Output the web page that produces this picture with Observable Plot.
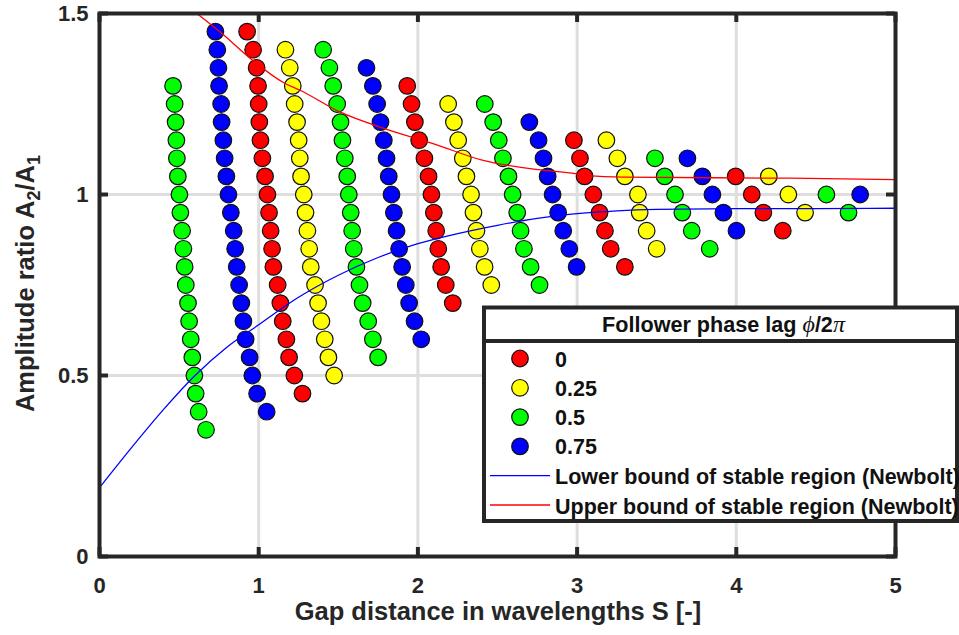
<!DOCTYPE html>
<html><head><meta charset="utf-8">
<script src="https://cdn.jsdelivr.net/npm/d3@7"></script>
<script src="https://cdn.jsdelivr.net/npm/@observablehq/plot@0.6"></script>
<style>
html,body{margin:0;padding:0;background:#fff;}
#chart{position:relative;width:959px;height:635px;overflow:hidden;}
</style></head><body><div id="chart"></div>
<script>
// ---- data ----
const phaseLabels = ["0", "0.25", "0.5", "0.75"];
const phaseColors = ["#ff0000", "#ffff00", "#00ff00", "#0000ff"];

// phase lag 0 (red)
const gap0 = [0.927,0.965,0.987,0.996,1.000,1.004,1.011,1.023,1.040,1.055,1.065,1.075,1.084,1.092,1.119,1.136,1.151,1.174,1.191,1.224,1.275,
  1.933,1.960,1.981,2.008,2.041,2.067,2.085,2.100,2.115,2.128,2.146,2.175,2.219,
  2.980,3.018,3.047,3.102,3.141,3.175,3.211,3.300,
  3.996,4.097,4.170,4.292];
const amp0 = [1.45,1.40,1.35,1.30,1.25,1.20,1.15,1.10,1.05,1.00,0.95,0.90,0.85,0.80,0.75,0.70,0.65,0.60,0.55,0.50,0.45,
  1.30,1.25,1.20,1.15,1.10,1.05,1.00,0.95,0.90,0.85,0.80,0.75,0.70,
  1.15,1.10,1.05,1.00,0.95,0.90,0.85,0.80,
  1.05,1.00,0.95,0.90];

// phase lag 0.25 (yellow)
const gap25 = [1.168,1.195,1.214,1.226,1.241,1.251,1.258,1.266,1.283,1.294,1.306,1.317,1.327,1.354,1.373,1.394,1.415,1.438,1.474,
  2.190,2.226,2.253,2.282,2.305,2.334,2.349,2.368,2.389,2.419,2.461,
  3.184,3.253,3.300,3.382,3.393,3.437,3.500,
  4.204,4.327,4.432];
const amp25 = [1.40,1.35,1.30,1.25,1.20,1.15,1.10,1.05,1.00,0.95,0.90,0.85,0.80,0.75,0.70,0.65,0.60,0.55,0.50,
  1.25,1.20,1.15,1.10,1.05,1.00,0.95,0.90,0.85,0.80,0.75,
  1.15,1.10,1.05,1.00,0.95,0.90,0.85,
  1.05,1.00,0.95];

// phase lag 0.5 (green)
const gap50 = [0.462,0.472,0.478,0.483,0.486,0.492,0.502,0.508,0.519,0.527,0.535,0.542,0.556,0.563,0.573,0.583,0.596,0.604,0.623,0.669,
  1.405,1.444,1.468,1.493,1.514,1.526,1.541,1.556,1.566,1.578,1.587,1.597,1.614,1.633,1.653,1.688,1.717,1.750,
  2.420,2.473,2.508,2.534,2.569,2.595,2.624,2.645,2.666,2.708,2.764,
  3.489,3.550,3.615,3.661,3.720,3.833,
  4.566,4.705];
const amp50 = [1.30,1.25,1.20,1.15,1.10,1.05,1.00,0.95,0.90,0.85,0.80,0.75,0.70,0.65,0.60,0.55,0.50,0.45,0.40,0.35,
  1.40,1.35,1.30,1.25,1.20,1.15,1.10,1.05,1.00,0.95,0.90,0.85,0.80,0.75,0.70,0.65,0.60,0.55,
  1.25,1.20,1.15,1.10,1.05,1.00,0.95,0.90,0.85,0.80,0.75,
  1.10,1.05,1.00,0.95,0.90,0.85,
  1.00,0.95];

// phase lag 0.75 (blue)
const gap75 = [0.728,0.740,0.747,0.751,0.764,0.767,0.778,0.786,0.797,0.810,0.825,0.843,0.852,0.862,0.877,0.891,0.904,0.918,0.943,0.960,0.990,1.050,
  1.677,1.717,1.744,1.765,1.786,1.803,1.817,1.834,1.849,1.866,1.882,1.901,1.924,1.945,1.979,2.021,
  2.700,2.758,2.789,2.815,2.846,2.881,2.913,2.951,2.997,
  3.693,3.787,3.850,3.919,4.001,
  4.778];
const amp75 = [1.45,1.40,1.35,1.30,1.25,1.20,1.15,1.10,1.05,1.00,0.95,0.90,0.85,0.80,0.75,0.70,0.65,0.60,0.55,0.50,0.45,0.40,
  1.35,1.30,1.25,1.20,1.15,1.10,1.05,1.00,0.95,0.90,0.85,0.80,0.75,0.70,0.65,0.60,
  1.20,1.15,1.10,1.05,1.00,0.95,0.90,0.85,0.80,
  1.10,1.05,1.00,0.95,0.90,
  1.00];

// Newbolt stability bounds
const lowerGap = [0,0.2,0.4,0.6,0.8,1.0,1.25,1.5,1.75,2.0,2.25,2.5,2.75,3.0,3.25,3.5,4.0,4.5,5.0];
const lowerAmp = [0.19,0.30,0.405,0.50,0.578,0.64,0.716,0.777,0.826,0.864,0.892,0.915,0.934,0.947,0.955,0.959,0.961,0.961,0.962];
const upperGap = [0.60,0.76,0.95,1.16,1.26,1.51,1.79,2.10,2.41,2.77,2.97,3.07,3.29,4.34,5.0];
const upperAmp = [1.504,1.448,1.375,1.308,1.288,1.228,1.182,1.140,1.094,1.068,1.059,1.052,1.048,1.045,1.041];

const xTicks = [0,1,2,3,4,5];
const yTicks = [0,0.5,1,1.5];
const legendLineLabels = ["Lower bound of stable region (Newbolt)", "Upper bound of stable region (Newbolt)"];
const legendLineColors = ["#0000ff", "#ff0000"];

// ---- build tables ----
const gaps = [gap0, gap25, gap50, gap75];
const amps = [amp0, amp25, amp50, amp75];
const points = phaseLabels.flatMap((p, i) => gaps[i].map((g, j) => ({phase: p, S: g, A: amps[i][j]})));
const lower = lowerGap.map((g, i) => ({S: g, A: lowerAmp[i]}));
const upper = upperGap.map((g, i) => ({S: g, A: upperAmp[i]}));

const W = 959, H = 635, ML = 99, MR = 64, MT = 13, MB = 79;
const PW = W - ML - MR, PH = H - MT - MB;
const ink = "#262626";
const font = "'Liberation Sans', Arial, Helvetica, sans-serif";

const plot = Plot.plot({
  width: W, height: H,
  marginLeft: ML, marginRight: MR, marginTop: MT, marginBottom: MB,
  x: {domain: [0, 5], label: null},
  y: {domain: [0, 1.5], label: null},
  color: {domain: phaseLabels, range: phaseColors},
  style: {fontFamily: font, background: "white", color: ink},
  marks: [
    Plot.gridX(xTicks, {stroke: "#dedede", strokeOpacity: 1, strokeWidth: 3}),
    Plot.gridY(yTicks, {stroke: "#dedede", strokeOpacity: 1, strokeWidth: 3}),
    Plot.dot(points, {x: "S", y: "A", fill: "phase", r: 8.3, stroke: "#111", strokeWidth: 1.2}),
    Plot.line(lower, {x: "S", y: "A", stroke: legendLineColors[0], strokeWidth: 1.3, curve: "monotone-x", clip: true}),
    Plot.line(upper, {x: "S", y: "A", stroke: legendLineColors[1], strokeWidth: 1.3, curve: "monotone-x", clip: true}),
    Plot.ruleX(xTicks, {x: d => d, insetTop: PH - 9, stroke: ink, strokeWidth: 4}),
    Plot.ruleX(xTicks, {x: d => d, insetBottom: PH - 9, stroke: ink, strokeWidth: 4}),
    Plot.ruleY(yTicks, {y: d => d, insetRight: PW - 9, stroke: ink, strokeWidth: 4}),
    Plot.ruleY(yTicks, {y: d => d, insetLeft: PW - 9, stroke: ink, strokeWidth: 4}),
    Plot.frame({stroke: ink, strokeWidth: 4}),
    Plot.axisX(xTicks, {tickSize: 0, tickPadding: 21, fontSize: 22, fontWeight: "bold", fill: ink, label: null, tickFormat: d => String(d)}),
    Plot.axisY(yTicks, {tickSize: 0, tickPadding: 11, fontSize: 22, fontWeight: "bold", fill: ink, label: null, tickFormat: d => String(d)})
  ]
});
document.getElementById("chart").appendChild(plot);

const svg = d3.select(plot);

// axis titles
svg.append("text")
  .attr("x", ML + PW / 2 + 1).attr("y", 620)
  .attr("text-anchor", "middle").attr("font-family", font).attr("font-weight", "bold")
  .attr("font-size", 25.5).attr("fill", ink)
  .text("Gap distance in wavelengths S [-]");

const yl = svg.append("text")
  .attr("transform", `translate(34,${MT + PH / 2 - 1}) rotate(-90)`)
  .attr("text-anchor", "middle").attr("font-family", font).attr("font-weight", "bold")
  .attr("font-size", 25.5).attr("fill", ink);
yl.append("tspan").text("Amplitude ratio A");
yl.append("tspan").attr("font-size", 18).attr("dy", 6).text("2");
yl.append("tspan").attr("dy", -6).text("/A");
yl.append("tspan").attr("font-size", 18).attr("dy", 6).text("1");

// legend
const lg = svg.append("g").attr("font-family", font).attr("font-weight", "bold")
  .attr("fill", "#111").attr("text-anchor", "start");
const bx = 484, by = 307.5, bw = 473, bh = 213.5;
lg.append("rect").attr("x", bx).attr("y", by).attr("width", bw).attr("height", bh)
  .attr("fill", "white").attr("stroke", ink).attr("stroke-width", 4);
lg.append("line").attr("x1", bx).attr("x2", bx + bw).attr("y1", 341).attr("y2", 341)
  .attr("stroke", ink).attr("stroke-width", 4);
const title = lg.append("text").attr("x", bx + bw / 2 + 3).attr("y", 331.5)
  .attr("text-anchor", "middle").attr("font-size", 21.6);
title.append("tspan").text("Follower phase lag ");
title.append("tspan").attr("font-family", "'Liberation Serif', 'DejaVu Serif', serif").attr("font-style", "italic").attr("font-weight", "normal").attr("font-size", 24).text("ϕ");
title.append("tspan").text("/2");
title.append("tspan").attr("font-family", "'Liberation Serif', 'DejaVu Serif', serif").attr("font-style", "italic").attr("font-weight", "normal").attr("font-size", 24).text("π");

const rowY = i => 358.5 + i * 29.3;
phaseLabels.forEach((p, i) => {
  lg.append("circle").attr("cx", 520).attr("cy", rowY(i)).attr("r", 8.3)
    .attr("fill", phaseColors[i]).attr("stroke", "#111").attr("stroke-width", 1.2);
  lg.append("text").attr("x", 555).attr("y", rowY(i) + 8).attr("text-anchor", "start")
    .attr("font-size", 21.5).text(p);
});
legendLineLabels.forEach((t, k) => {
  const cy = rowY(4 + k);
  lg.append("line").attr("x1", 490).attr("x2", 550).attr("y1", cy).attr("y2", cy)
    .attr("stroke", legendLineColors[k]).attr("stroke-width", 1.3);
  lg.append("text").attr("x", 555).attr("y", cy + 8.5).attr("text-anchor", "start")
    .attr("font-size", 21.5).text(t);
});
</script></body></html>
